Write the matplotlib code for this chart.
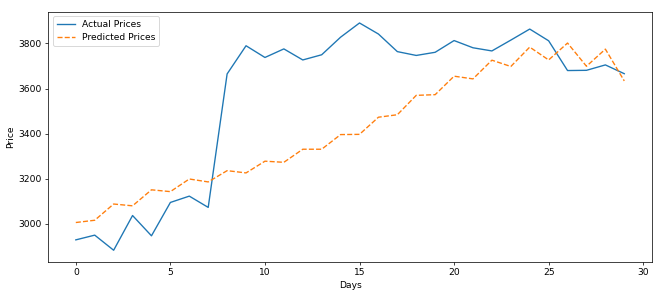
import matplotlib
matplotlib.use('Agg')
import matplotlib.pyplot as plt

# Values
days = list(range(30))
actual_prices = [2929, 2950, 2883, 3037, 2947, 3095, 3123, 3073, 3665, 3790,
                 3738, 3776, 3727, 3750, 3828, 3891, 3842, 3764, 3747, 3761,
                 3813, 3781, 3767, 3815, 3864, 3812, 3680, 3681, 3705, 3666]
predicted_prices = [3006, 3016, 3088, 3080, 3151, 3143, 3199, 3186, 3236, 3226,
                    3278, 3273, 3331, 3331, 3396, 3397, 3473, 3484, 3570, 3573,
                    3655, 3643, 3726, 3698, 3784, 3727, 3802, 3699, 3775, 3634]

# Figure at 10x4.45 inches scaled down to 654x291 px
fig, ax = plt.subplots(figsize=(10, 4.45), dpi=65.4)
ax.plot(days, actual_prices, label='Actual Prices')
ax.plot(days, predicted_prices, linestyle='--', label='Predicted Prices')
ax.set_xlabel('Days')
ax.set_ylabel('Price')
ax.legend(loc='upper left')

fig.subplots_adjust(left=0.074, right=0.9965, top=0.96, bottom=0.101)
fig.savefig('out.png')
